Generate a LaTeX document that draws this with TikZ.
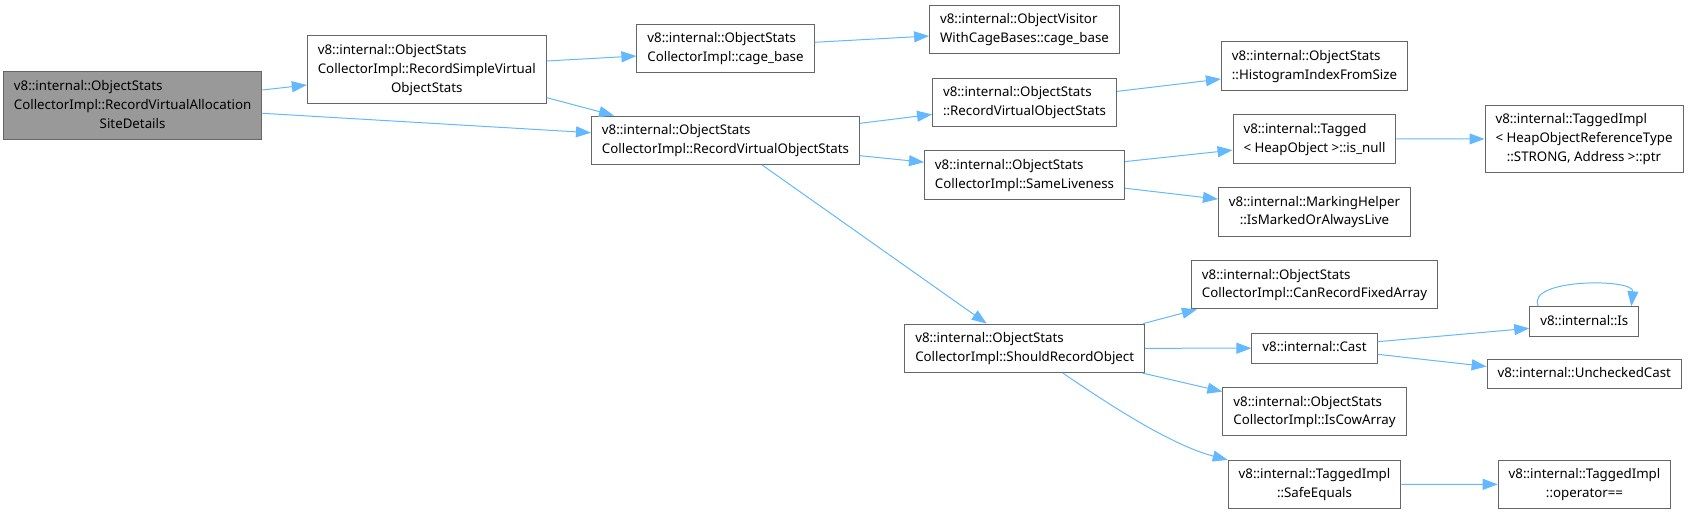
\documentclass[tikz,border=0pt]{standalone}
\usepackage{fontspec}
\setmainfont{Noto Sans}
\usepackage{tikz}
\usetikzlibrary{arrows.meta,positioning,calc}
\definecolor{callblue}{HTML}{63B8FF}
\definecolor{frame}{HTML}{666666}
\definecolor{rootgray}{HTML}{999999}
\newcommand{\lline}[1]{\multicolumn{1}{@{}l@{}}{#1}}
\newcommand{\fnt}[1]{\begin{tabular}{@{}c@{}}#1\end{tabular}}
\tikzset{
  fn/.style={draw=frame,fill=white,line width=1pt,inner xsep=10.5pt,inner ysep=5.4pt,
    font=\fontsize{13.3}{18.8}\selectfont},
  rootfn/.style={fn,fill=rootgray},
  call/.style={-{Triangle[length=15pt,width=11pt]},draw=callblue,line width=1pt}
}

\begin{document}
\begin{tikzpicture}[x=1pt,y=-1pt,node distance=23.5pt]
  \useasboundingbox (0,0) rectangle (1690,514);
  \node[rootfn] (root) at (132.6,105.5) {\fnt{\lline{v8::internal::ObjectStats}\\\lline{CollectorImpl::RecordVirtualAllocation}\\SiteDetails}};
  \node[fn] (rsv) at (426.8,69.5) {\fnt{\lline{v8::internal::ObjectStats}\\\lline{CollectorImpl::RecordSimpleVirtual}\\ObjectStats}};
  \node[fn] (cage) at (725.5,48.2) {\fnt{\lline{v8::internal::ObjectStats}\\CollectorImpl::cage\_base}};
  \node[fn] (rvos) at (725.5,140.2) {\fnt{\lline{v8::internal::ObjectStats}\\CollectorImpl::RecordVirtualObjectStats}};
  \node[fn] (visitor) at (1024.5,29.3) {\fnt{\lline{v8::internal::ObjectVisitor}\\WithCageBases::cage\_base}};
  \node[fn,below=of visitor] (osrvos) {\fnt{\lline{v8::internal::ObjectStats}\\::RecordVirtualObjectStats}};
  \node[fn,below=of osrvos] (same) {\fnt{\lline{v8::internal::ObjectStats}\\CollectorImpl::SameLiveness}};
  \node[fn] (sro) at (1024.7,348.3) {\fnt{\lline{v8::internal::ObjectStats}\\CollectorImpl::ShouldRecordObject}};
  \node[fn] (hist) at (1314.5,66) {\fnt{\lline{v8::internal::ObjectStats}\\::HistogramIndexFromSize}};
  \node[fn,below=of hist] (isnull) {\fnt{\lline{v8::internal::Tagged}\\\lline{< HeapObject >::is\_null}}};
  \node[fn,below=of isnull] (marking) {\fnt{v8::internal::MarkingHelper\\::IsMarkedOrAlwaysLive}};
  \node[fn,below=of marking] (canrec) {\fnt{\lline{v8::internal::ObjectStats}\\CollectorImpl::CanRecordFixedArray}};
  \node[fn,below=of canrec] (cast) {\fnt{v8::internal::Cast}};
  \node[fn,below=of cast] (cow) {\fnt{\lline{v8::internal::ObjectStats}\\CollectorImpl::IsCowArray}};
  \node[fn,below=of cow] (safe) {\fnt{v8::internal::TaggedImpl\\::SafeEquals}};
  \node[fn] (ptr) at (1584,139) {\fnt{\lline{v8::internal::TaggedImpl}\\\lline{< HeapObjectReferenceType}\\::STRONG, Address >::ptr}};
  \node[fn] (is) at (1584.3,321.5) {\fnt{v8::internal::Is}};
  \node[fn,below=22pt of is] (unchecked) {\fnt{v8::internal::UncheckedCast}};
  \node[fn] (opeq) at (1584.5,484.2) {\fnt{v8::internal::TaggedImpl\\::operator==}};

  \draw[call] ([yshift=15.5pt]root.east) -- ([yshift=-15.5pt]rsv.west);
  \draw[call] ([yshift=-7.8pt]root.east) -- ([yshift=7.5pt]rvos.west);
  \draw[call] ([yshift=8.5pt]rsv.east) -- ([yshift=-7.8pt]cage.west);
  \draw[call] ([yshift=-28.2pt]rsv.east) -- ([xshift=-111.5pt]rvos.north);
  \draw[call] ([yshift=5.9pt]cage.east) -- ([yshift=-6.7pt]visitor.west);
  \draw[call] ([yshift=16.9pt]rvos.east) -- ([yshift=-12.2pt]osrvos.west);
  \draw[call] ([yshift=-15.5pt]rvos.east) -- ([yshift=12.9pt]same.west);
  \draw[call] ([xshift=36.5pt]rvos.south) -- ([xshift=-38pt]sro.north);
  \draw[call] ([yshift=10.8pt]osrvos.east) -- ([yshift=-13pt]hist.west);
  \draw[call] ([yshift=13.5pt]same.east) -- ([yshift=-11.2pt]isnull.west);
  \draw[call] ([yshift=-13.1pt]same.east) -- ([yshift=12.7pt]marking.west);
  \draw[call] (isnull) -- (ptr);
  \draw[call] ([xshift=-2pt]sro.north east) -- ([xshift=6pt]canrec.south west);
  \draw[call] (sro) -- (cast);
  \draw[call] ([xshift=-3pt]sro.south east) -- ([yshift=20.1pt]cow.west);
  \draw[call] ([xshift=38pt]sro.south) .. controls +(47,32) and +(-57,-15) .. (safe.north west);
  \draw[call] ([yshift=6.5pt]cast.east) -- ([yshift=-6.8pt]is.west);
  \draw[call] ([yshift=-6.1pt]cast.east) -- ([yshift=7.6pt]unchecked.west);
  \draw[call] ([xshift=-46pt]is.north) .. controls +(-13,-28) and +(3,-28) .. ([xshift=47pt]is.north);
  \draw[call] (safe) -- (opeq);
\end{tikzpicture}
\end{document}
